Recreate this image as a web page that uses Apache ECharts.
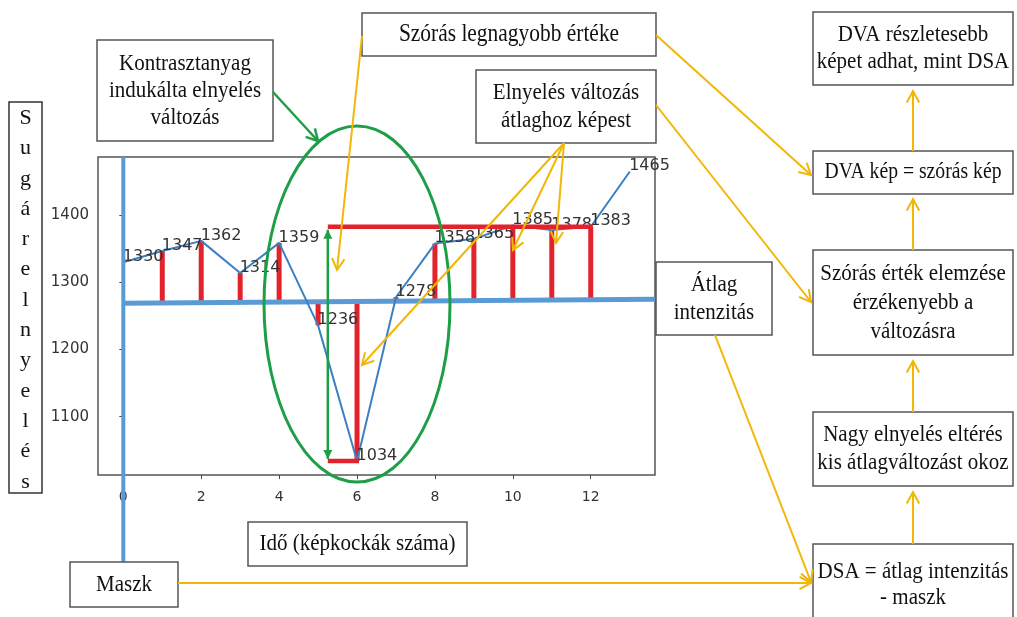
<!DOCTYPE html>
<html>
<head>
<meta charset="utf-8">
<script src="https://cdn.jsdelivr.net/npm/echarts@6/dist/echarts.min.js"></script>
<style>
  html, body { margin: 0; padding: 0; background: #fff; }
  #chart { width: 1017px; height: 617px; }
</style>
</head>
<body>
<div id="chart"></div>
<script>
// Frame index (time) and absorbed intensity per frame
const frames = [0, 1, 2, 3, 4, 5, 6, 7, 8, 9, 10, 11, 12, 13];
const intensity = [1330, 1347, 1362, 1314, 1359, 1236, 1034, 1278, 1358, 1365, 1385, 1378, 1383, 1465];
// Frames whose deviation from the average is marked with a red stem
const stemFrames = [1, 2, 3, 4, 5, 6, 7, 8, 9, 10, 11, 12];
// Average intensity level (left end, right end)
const meanLevel = [1269, 1275];
// Largest spread: from the upper plateau down to the minimum
const spreadFrame = 5.25;
const spreadTop = 1383;
const spreadBottom = 1034;
const spreadTopEnd = 12;
const spreadBottomEnd = 6;
// Axis ticks and ranges
const xTicks = [0, 2, 4, 6, 8, 10, 12];
const yTicks = [1100, 1200, 1300, 1400];
const xRange = [-0.65, 13.65];
const yRange = [1013, 1487];

const BLUE_THICK = '#5b9bd5';
const BLUE_LINE = '#3a80c2';
const RED = '#e3232b';
const GREEN = '#1f9e48';
const GOLD = '#f2b705';
const SERIF = '"Liberation Serif", "Times New Roman", serif';
const NARROW = 0.875;

function meanAt(x) {
  return meanLevel[0] + (meanLevel[1] - meanLevel[0]) * x / xRange[1];
}

const chart = echarts.init(document.getElementById('chart'), null, { renderer: 'canvas' });

chart.setOption({
  animation: false,
  backgroundColor: '#fff',
  grid: {
    left: 98, top: 157, width: 557, height: 318,
    show: true, borderColor: '#555', borderWidth: 1.5, backgroundColor: '#fff'
  },
  xAxis: {
    type: 'value', min: xRange[0], max: xRange[1],
    axisLine: { show: false },
    splitLine: { show: false },
    axisTick: { show: true, customValues: xTicks, length: 4, lineStyle: { color: '#444' } },
    axisLabel: {
      customValues: xTicks, margin: 15, fontFamily: 'DejaVu Sans', fontSize: 14, color: '#333',
      formatter: v => String(v)
    }
  },
  yAxis: {
    type: 'value', min: yRange[0], max: yRange[1],
    axisLine: { show: false },
    splitLine: { show: false },
    axisTick: { show: true, customValues: yTicks, length: 4, lineStyle: { color: '#444' } },
    axisLabel: {
      customValues: yTicks, margin: 9, fontFamily: 'DejaVu Sans', fontSize: 15, color: '#333',
      formatter: v => String(v)
    }
  },
  series: [
    {
      // red stems: deviation of each frame from the average
      type: 'custom',
      z: 3,
      data: stemFrames.map(f => [f, intensity[f]]),
      renderItem: function (params, api) {
        const x = api.value(0);
        const p0 = api.coord([x, meanAt(x)]);
        const p1 = api.coord([x, api.value(1)]);
        return {
          type: 'line',
          shape: { x1: p0[0], y1: p0[1], x2: p1[0], y2: p1[1] },
          style: { stroke: RED, lineWidth: 5 }
        };
      }
    },
    {
      // red brackets and green double arrow marking the largest spread
      type: 'custom',
      z: 6,
      data: [[spreadFrame, spreadTop, spreadBottom, spreadTopEnd, spreadBottomEnd]],
      renderItem: function (params, api) {
        const x = api.value(0);
        const top0 = api.coord([x, api.value(1)]);
        const top1 = api.coord([api.value(3), api.value(1)]);
        const bot0 = api.coord([x, api.value(2)]);
        const bot1 = api.coord([api.value(4), api.value(2)]);
        const ax = top0[0];
        const yTop = top0[1] + 3;
        const yBot = bot0[1] - 2;
        const h = 9, w = 4.5;
        return {
          type: 'group',
          children: [
            { type: 'line', shape: { x1: top0[0], y1: top0[1], x2: top1[0] + 2, y2: top1[1] }, style: { stroke: RED, lineWidth: 4.5 } },
            { type: 'line', shape: { x1: bot0[0], y1: bot0[1], x2: bot1[0] + 2, y2: bot1[1] }, style: { stroke: RED, lineWidth: 4.5 } },
            { type: 'line', shape: { x1: ax, y1: yTop, x2: ax, y2: yBot }, style: { stroke: GREEN, lineWidth: 2.5 } },
            { type: 'polygon', shape: { points: [[ax - w, yTop + h], [ax, yTop], [ax + w, yTop + h]] }, style: { fill: GREEN } },
            { type: 'polygon', shape: { points: [[ax - w, yBot - h], [ax, yBot], [ax + w, yBot - h]] }, style: { fill: GREEN } }
          ]
        };
      }
    },
    {
      // average intensity level
      type: 'line',
      z: 4,
      data: [[0, meanLevel[0]], [xRange[1], meanLevel[1]]],
      symbol: 'none',
      lineStyle: { color: BLUE_THICK, width: 5 }
    },
    {
      // intensity over time
      type: 'line',
      z: 5,
      data: frames.map((f, i) => [f, intensity[i]]),
      symbol: 'circle',
      symbolSize: 1,
      itemStyle: { color: BLUE_LINE },
      lineStyle: { color: BLUE_LINE, width: 2 },
      label: {
        show: true,
        position: [0, 0],
        align: 'left',
        verticalAlign: 'bottom',
        offset: [0, 3],
        fontFamily: 'DejaVu Sans',
        fontSize: 16,
        color: '#333',
        formatter: p => String(p.value[1])
      }
    }
  ]
});

// ---------- annotation layer ----------
const elements = [];
const Z = 50;

function box(x, y, w, h, lines, fs, lh) {
  elements.push({
    type: 'rect', z: Z, silent: true,
    shape: { x: x, y: y, width: w, height: h },
    style: { fill: '#fff', stroke: '#555', lineWidth: 1.5 }
  });
  elements.push({
    type: 'text', z: Z + 1, silent: true,
    x: x + w / 2, y: y + h / 2,
    scaleX: NARROW,
    style: {
      text: lines.join('\n'),
      x: 0, y: 0,
      font: (fs || 24) + 'px ' + SERIF,
      fill: '#111',
      align: 'center', verticalAlign: 'middle',
      lineHeight: lh || 28
    }
  });
}

function arrow(x1, y1, x2, y2, color, lw, len) {
  len = len || 13;
  const ang = 0.5;
  const a = Math.atan2(y2 - y1, x2 - x1);
  const p1 = [x2 - len * Math.cos(a - ang), y2 - len * Math.sin(a - ang)];
  const p2 = [x2 - len * Math.cos(a + ang), y2 - len * Math.sin(a + ang)];
  elements.push({
    type: 'line', z: Z + 2, silent: true,
    shape: { x1: x1, y1: y1, x2: x2, y2: y2 },
    style: { stroke: color, lineWidth: lw }
  });
  elements.push({
    type: 'polyline', z: Z + 2, silent: true,
    shape: { points: [p1, [x2, y2], p2] },
    style: { stroke: color, lineWidth: lw, fill: null }
  });
}

function line(x1, y1, x2, y2, color, lw, z) {
  elements.push({
    type: 'line', z: z, silent: true,
    shape: { x1: x1, y1: y1, x2: x2, y2: y2 },
    style: { stroke: color, lineWidth: lw }
  });
}

// mask marker: vertical line at frame 0 running down to the "Maszk" box
const x0 = chart.convertToPixel({ gridIndex: 0 }, [0, yRange[1]]);
line(x0[0], x0[1], x0[0], 563, BLUE_THICK, 4, Z - 1);

// contrast region ellipse
elements.push({
  type: 'ellipse', z: Z, silent: true,
  shape: { cx: 357, cy: 304, rx: 93, ry: 178 },
  style: { fill: null, stroke: GREEN, lineWidth: 3 }
});

// text boxes
box(97, 40, 176, 101, ['Kontrasztanyag', 'indukálta elnyelés', 'változás'], 24, 27);
box(362, 13, 294, 43, ['Szórás legnagyobb értéke'], 24.5);
box(476, 70, 180, 73, ['Elnyelés változás', 'átlaghoz képest']);
box(656, 262, 116, 73, ['Átlag', 'intenzitás']);
box(248, 522, 219, 44, ['Idő (képkockák száma)']);
box(70, 562, 108, 45, ['Maszk']);
box(813, 12, 200, 73, ['DVA részletesebb', 'képet adhat, mint DSA'], 24, 27);
box(813, 151, 200, 43, ['DVA kép = szórás kép'], 22.5);
box(813, 250, 200, 105, ['Szórás érték elemzése', 'érzékenyebb a', 'változásra'], 24, 29);
box(813, 412, 200, 74, ['Nagy elnyelés eltérés', 'kis átlagváltozást okoz']);
box(813, 544, 200, 82, ['DSA = átlag intenzitás', '- maszk'], 24, 26);

// vertical axis title box
elements.push({
  type: 'rect', z: Z, silent: true,
  shape: { x: 9, y: 102, width: 33, height: 391 },
  style: { fill: '#fff', stroke: '#333', lineWidth: 1.5 }
});
elements.push({
  type: 'text', z: Z + 1, silent: true,
  style: {
    text: 'Sugárelnyelés'.split('').join('\n'),
    x: 25.5, y: 300,
    font: '22px ' + SERIF, fill: '#111',
    align: 'center', verticalAlign: 'middle', lineHeight: 30.3
  }
});

// green callout from the contrast box to the ellipse
arrow(273, 92, 318, 141, GREEN, 2.5, 13);

// gold callouts
arrow(362, 36, 337, 270, GOLD, 2, 13);
arrow(656, 35, 811, 175, GOLD, 2, 13);
arrow(656, 105, 811, 302, GOLD, 2, 13);
arrow(564, 143, 362, 365, GOLD, 2, 13);
arrow(564, 143, 513, 250, GOLD, 2, 13);
arrow(564, 143, 556, 243, GOLD, 2, 13);
arrow(715, 335, 811, 582, GOLD, 2, 13);
arrow(178, 583, 811, 583, GOLD, 2, 13);

// flow between the right-hand boxes
arrow(913, 151, 913, 91, GOLD, 2, 13);
arrow(913, 250, 913, 199, GOLD, 2, 13);
arrow(913, 412, 913, 361, GOLD, 2, 13);
arrow(913, 544, 913, 492, GOLD, 2, 13);

chart.setOption({ graphic: { elements: elements } });
</script>
</body>
</html>
